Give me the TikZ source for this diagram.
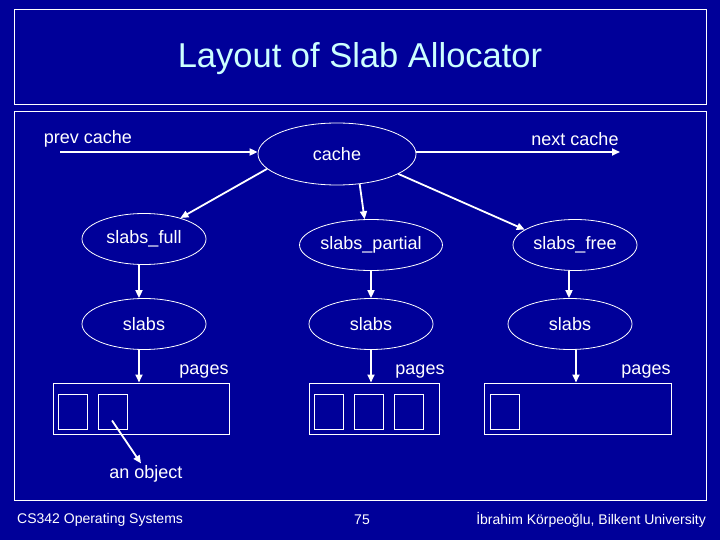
\documentclass[tikz,border=0pt]{standalone}
\usepackage{fontspec}
\setmainfont{Liberation Sans}
\usetikzlibrary{shapes.geometric,arrows.meta}
\definecolor{bgblue}{RGB}{0,0,153}
\definecolor{titlecyan}{RGB}{204,255,255}
\tikzset{
  ell/.style={ellipse,draw=white,line width=0.8pt,minimum width=124pt,minimum height=51pt,inner sep=0pt,text=white,font=\fontsize{18}{20}\selectfont},
  lbl/.style={text=white,font=\fontsize{18}{20}\selectfont,inner sep=0pt},
  foot/.style={text=white,font=\fontsize{14}{16}\selectfont,inner sep=0pt},
  pagebox/.style={draw=white,line width=1pt,minimum height=51pt,inner sep=0pt},
  objbox/.style={draw=white,line width=1pt,minimum width=29pt,minimum height=35pt,inner sep=0pt},
  arr/.style={draw=white,line width=1.8pt,-{Triangle[length=8pt,width=7pt]}},
  frame/.style={draw=white,line width=1pt}
}
\begin{document}
\begin{tikzpicture}[x=1pt,y=-1pt]
\fill[bgblue] (0,0) rectangle (720,540);
\useasboundingbox (0,0) rectangle (720,540);
% frames
\draw[frame] (14,10) rectangle (706,105);
\draw[frame] (14,112) rectangle (706,500);
\node[text=titlecyan,font=\fontsize{34.5}{38}\selectfont,inner sep=0pt] (title) at (360,59) {Layout of Slab Allocator};
% ellipses
\node[ell,minimum width=158pt,minimum height=62pt] (cache) at (337,154) {cache};
\node[ell] (slabsfull) at (144,239) {slabs\_full};
\node[ell] (slabspartial) at (371,245) {slabs\_partial};
\node[ell] (slabsfree) at (575,245) {slabs\_free};
\node[ell] (slabsL) at (144,324) {slabs};
\node[ell] (slabsM) at (371,324) {slabs};
\node[ell] (slabsR) at (570,324) {slabs};
% labels
\node[lbl] (prevlbl) at (88,139) {prev cache};
\node[lbl] (nextlbl) at (575,139) {next cache};
\node[lbl] (pagesLlbl) at (204,372) {pages};
\node[lbl] (pagesMlbl) at (420,372) {pages};
\node[lbl] (pagesRlbl) at (646,372) {pages};
\node[lbl] (anobject) at (146,474) {an object};
% page boxes
\node[pagebox,minimum width=176.5pt] (pagesL) at (141.25,408.5) {};
\node[pagebox,minimum width=130pt] (pagesM) at (374,408.5) {};
\node[pagebox,minimum width=186.5pt] (pagesR) at (577.75,408.5) {};
% objects
\node[objbox] (objL1) at (73,411.5) {};
\node[objbox] (objL2) at (113,411.5) {};
\node[objbox] (objM1) at (329,411.5) {};
\node[objbox] (objM2) at (368.5,411.5) {};
\node[objbox] (objM3) at (408.5,411.5) {};
\node[objbox] (objR1) at (504.5,411.5) {};
% connector ends
\coordinate (prevstart) at (60,152);
\coordinate (nextend) at (620,152);
% arrows
\draw[arr] (prevstart) -- (prevstart -| cache.west);
\draw[arr] (cache.east |- nextend) -- (nextend);
\draw[arr] (cache.192) -- (slabsfull.30);
\draw[arr] (cache.307) -- (slabspartial.104);
\draw[arr] (cache.342) -- (slabsfree.163);
\draw[arr] ([xshift=-5pt]slabsfull.south) -- ([xshift=-5pt]slabsL.north);
\draw[arr] (slabspartial.south) -- (slabsM.north);
\draw[arr] ([xshift=-6pt]slabsfree.south) -- ([xshift=-1pt]slabsR.north);
\draw[arr] ([xshift=-5pt]slabsL.south) -- ([xshift=-5pt]slabsL.south |- pagesL.north);
\draw[arr] (slabsM.south) -- (slabsM.south |- pagesM.north);
\draw[arr] ([xshift=6pt]slabsR.south) -- ([xshift=6pt]slabsR.south |- pagesR.north);
\draw[arr] ([xshift=-1pt,yshift=-9pt]objL2.center) -- ([xshift=-5pt,yshift=2pt]anobject.north);
% footer
\node[foot,anchor=west] (footL) at (17,520) {CS342 Operating Systems};
\node[foot] (footM) at (362,520) {75};
\node[foot,anchor=east] (footR) at (706,520) {İbrahim Körpeoğlu, Bilkent University};
\end{tikzpicture}
\end{document}
